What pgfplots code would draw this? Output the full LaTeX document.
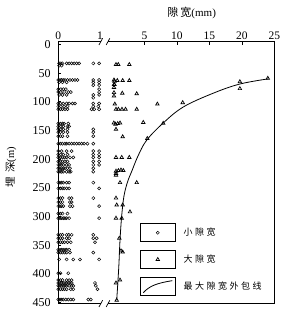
\documentclass[border=0pt]{standalone}
\usepackage{fontspec}
\setmainfont{Liberation Serif}
\newfontfamily\cjk{Noto Sans CJK SC}
\newfontfamily\cjkl[LetterSpace=28]{Noto Sans CJK SC}
\usepackage{pgfplots}
\pgfplotsset{compat=1.18}
\pgfplotsset{
  boxmark/.style={legend image code/.code={
    \draw[black,line width=0.7pt,solid] (0pt,-9pt) rectangle (35pt,9pt);
    \draw[##1] plot coordinates {(17.5pt,0pt)};}},
  boxcurve/.style={legend image code/.code={
    \draw[black,line width=0.7pt,solid] (0pt,-9pt) rectangle (35pt,9pt);
    \draw[##1] (3pt,-6.5pt) .. controls (9pt,0pt) and (16pt,3pt) .. (32pt,5.5pt);}},
  circ/.style={only marks, mark=o, mark size=1.55pt, mark options={line width=0.5pt, black}},
  tri/.style={only marks, mark=triangle, mark size=2pt, mark options={line width=0.7pt, black}},
  common/.style={scale only axis, height=262pt, ymin=-5, ymax=452, y dir=reverse,
    axis line style={draw=none}, clip=false, tick align=inside, major tick length=3pt,
    /pgf/number format/assume math mode=true,
    every tick/.style={black, line width=0.6pt},
    xtick pos=right, xticklabel pos=right,
    xticklabel style={font=\fontsize{11.5}{13}\selectfont, yshift=-1.5pt},
    yticklabel style={font=\fontsize{12}{13}\selectfont, xshift=-4.2pt}},
}
\begin{document}
\begin{tikzpicture}[x=1pt,y=1pt]
\path[use as bounding box] (0,0) rectangle (284,313);
% left panel: small gaps
\begin{axis}[common, at={(58.3pt,9.4pt)}, anchor=south west, width=42.5pt,
  xmin=0, xmax=1.02, xtick={0,1}, xtick style={draw=none},
  ytick={0,50,...,450}, ytick pos=left, yticklabel pos=left]
\addplot[circ] coordinates {
(0.02,33)(0.06,33)(0.1,33)(0.2,33)(0.26,33)(0.32,33)(0.38,33)(0.44,33)(0.5,33)(0.84,33)(0.98,33)
(0.02,37)(0.08,37)
(0.0,62)(0.04,62)(0.08,62)(0.12,62)(0.16,62)(0.22,62)(0.28,62)(0.34,62)(0.4,62)(0.46,62)(0.84,62)(0.98,62)
(0.02,66)(0.1,66)(0.2,66)(0.84,66)(0.98,66)
(0.84,71)(0.98,71)
(0.0,78)(0.06,78)(0.12,78)(0.18,78)(0.98,78)
(0.0,83)(0.06,83)(0.14,83)(0.24,83)(0.3,83)(0.98,83)
(0.02,88)(0.1,88)(0.2,88)(0.84,88)(0.98,88)
(0.84,93)
(0.0,103)(0.05,103)(0.12,103)(0.2,103)(0.26,103)(0.34,103)(0.4,103)(0.84,103)(0.98,103)
(0.0,108)(0.06,108)(0.14,108)(0.22,108)(0.84,108)(0.96,108)
(0.0,113)(0.05,113)(0.1,113)(0.16,113)(0.22,113)(0.8,113)(0.86,113)(0.98,113)
(0.0,138)(0.05,138)(0.1,138)(0.14,138)(0.24,138)
(0.0,143)(0.06,143)(0.12,143)(0.22,143)(0.26,143)
(0.0,148)(0.06,148)(0.12,148)(0.22,148)(0.84,148)
(0.0,153)(0.05,153)(0.12,153)(0.22,153)(0.84,153)
(0.0,160)(0.05,160)(0.1,160)(0.22,160)(0.84,160)
(0.0,173)(0.05,173)(0.1,173)(0.16,173)(0.2,173)(0.26,173)(0.32,173)(0.38,173)(0.44,173)(0.5,173)(0.56,173)(0.62,173)(0.7,173)(0.84,173)
(0.0,186)(0.08,186)(0.2,186)(0.32,186)(0.84,186)(0.98,186)
(0.0,192)(0.06,192)(0.12,192)(0.22,192)(0.84,192)(0.98,192)
(0.0,197)(0.05,197)(0.1,197)(0.15,197)(0.2,197)(0.28,197)(0.36,197)(0.84,197)(0.98,197)
(0.0,204)(0.05,204)(0.1,204)(0.16,204)(0.22,204)(0.84,204)(0.98,204)
(0.0,210)(0.04,210)(0.08,210)(0.12,210)(0.2,210)(0.26,210)(0.84,210)(0.98,210)
(0.0,216)(0.04,216)(0.08,216)(0.12,216)(0.16,216)(0.22,216)(0.28,216)(0.84,216)
(0.0,222)(0.04,222)(0.08,222)(0.12,222)(0.2,222)(0.26,222)(0.3,222)(0.84,222)
(0.0,241)(0.04,241)(0.08,241)(0.12,241)(0.2,241)(0.26,241)(0.84,241)
(0.0,251)(0.05,251)(0.1,251)(0.14,251)(0.2,251)(0.26,251)(0.98,251)
(0.0,268)(0.05,268)(0.1,268)(0.26,268)(0.32,268)(0.84,268)
(0.0,275)(0.05,275)(0.1,275)(0.28,275)(0.32,275)
(0.0,282)(0.04,282)(0.08,282)(0.12,282)(0.28,282)(0.34,282)(0.98,282)
(0.0,295)(0.05,295)(0.1,295)(0.22,295)
(0.0,303)(0.04,303)(0.08,303)(0.12,303)(0.16,303)(0.2,303)(0.26,303)(0.98,303)
(0.0,332)(0.05,332)(0.1,332)(0.2,332)(0.25,332)(0.32,332)(0.84,332)
(0.0,338)(0.05,338)(0.1,338)(0.2,338)(0.26,338)(0.84,338)(0.92,338)
(0.0,345)(0.05,345)(0.1,345)(0.15,345)(0.22,345)(0.3,345)(0.88,345)
(0.0,358)(0.04,358)(0.08,358)(0.12,358)(0.16,358)(0.2,358)(0.26,358)
(0.0,363)(0.05,363)(0.1,363)(0.15,363)(0.2,363)(0.28,363)(0.84,363)
(0.02,375)(0.2,375)(0.36,375)(0.52,375)(0.98,375)
(0.0,399)(0.05,399)(0.24,399)
(0.0,411)(0.05,411)(0.1,411)(0.2,411)(0.26,411)(0.32,411)
(0.0,416)(0.04,416)(0.08,416)(0.12,416)(0.16,416)(0.2,416)(0.24,416)(0.28,416)(0.32,416)(0.88,416)
(0.0,421)(0.04,421)(0.08,421)(0.12,421)(0.16,421)(0.2,421)(0.26,421)(0.32,421)(0.36,421)(0.9,421)
(0.0,427)(0.05,427)(0.1,427)(0.15,427)(0.2,427)(0.3,427)(0.36,427)(0.94,427)
(0.0,445)(0.04,445)(0.08,445)(0.12,445)(0.18,445)(0.24,445)(0.3,445)(0.36,445)(0.72,445)(0.78,445)
};
\draw[line width=0.8pt] (axis description cs:1,1) -- (axis description cs:0,1) -- (axis description cs:0,0) -- (axis description cs:1,0);
\draw[line width=0.7pt] ([shift={(-1.8pt,-3.3pt)}]axis description cs:1,1) -- ([shift={(1.8pt,3.3pt)}]axis description cs:1,1);
\draw[line width=0.7pt] ([shift={(-1.8pt,-3.3pt)}]axis description cs:1,0) -- ([shift={(1.8pt,3.3pt)}]axis description cs:1,0);
\end{axis}
% right panel: large gaps
\begin{axis}[common, at={(108pt,9.4pt)}, anchor=south west, width=166.3pt,
  xmin=-0.6, xmax=25.001, xtick={5,10,15,20,25}, ytick=\empty,
  legend style={draw=none, fill=none, at={(0.192,0.306)}, anchor=north west,
    row sep=8pt, column sep=8pt, inner sep=0pt, outer sep=0pt,
    nodes={inner sep=0pt, anchor=west}, font=\cjkl\fontsize{9}{10}\selectfont},
  legend cell align=left]
\addlegendimage{circ, boxmark}
\addlegendentry{小隙宽}
\addplot[tri, boxmark] coordinates {
(0.63,35)(0.98,35)(2.68,35)
(0.32,62)(0.4,64)(0.83,63)(1.66,63)(2.68,63)
(0.32,70)(0.4,70)(0.32,75)(0.32,84)(0.32,90)
(1.6,85)(3.82,86)
(0.45,104)
(0.63,113)(1.0,113)(1.55,113)(2.1,113)(3.82,113)
(0.3,137)(0.55,139)(0.9,138)(1.25,137)(4.83,136)
(0.63,148)
(1.66,161)(5.45,164)(7.9,137.5)(7.0,104)(10.9,101.5)
(19.7,65)(19.7,77)(24.0,59)
(0.63,197)(1.51,197)(2.68,197)
(0.63,221)(1.0,220)(1.4,219)(1.76,220)(0.63,225)(0.63,228)
(1.25,241)(3.82,241)
(0.63,268)
(0.74,280)(1.66,280)
(2.78,292)
(0.63,303)(1.51,303)
(1.14,338)
(1.4,360)(1.66,362)
(1.25,411)(0.63,416)
(0.74,446)
};
\addlegendentry{大隙宽}
\addplot[black, line width=0.8pt, smooth, tension=0.6, boxcurve] coordinates {
(0.74,446)(1.05,390)(1.25,341)(1.5,300)(1.85,265)(2.4,240)(3.1,220)(4.0,195)(5.35,167)(7.9,137)(11.0,109)(15.6,85)(19.7,69)(24.06,60)
};
\addlegendentry{最大隙宽外包线}
\draw[line width=0.8pt] (axis description cs:0,1) -- (axis description cs:1,1) -- (axis description cs:1,0) -- (axis description cs:0,0);
\draw[line width=0.7pt] ([shift={(-1.8pt,-3.3pt)}]axis description cs:0,1) -- ([shift={(1.8pt,3.3pt)}]axis description cs:0,1);
\draw[line width=0.7pt] ([shift={(-1.8pt,-3.3pt)}]axis description cs:0,0) -- ([shift={(1.8pt,3.3pt)}]axis description cs:0,0);
\end{axis}
\node[font=\fontsize{11}{12}\selectfont] at (191.7,300) {{\cjk 隙\hspace{2pt}宽}(mm)};
\node[rotate=90, font=\fontsize{10.5}{12}\selectfont] at (11,146) {{\cjk 埋\hspace{4pt}深}(m)};
\end{tikzpicture}
\end{document}
